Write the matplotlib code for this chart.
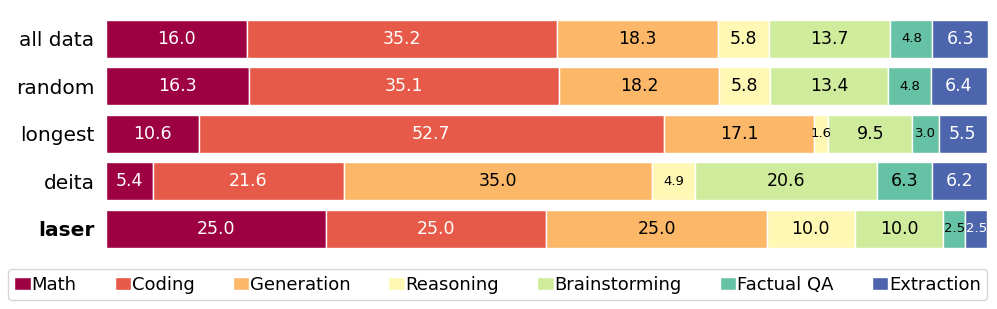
import numpy as np
import matplotlib
matplotlib.use("Agg")
import matplotlib.pyplot as plt

# data
rows = ["all data", "random", "longest", "deita", "laser"]
categories = ["Math", "Coding", "Generation", "Reasoning", "Brainstorming", "Factual QA", "Extraction"]
math_vals = [16.0, 16.3, 10.6, 5.4, 25.0]
coding_vals = [35.2, 35.1, 52.7, 21.6, 25.0]
generation_vals = [18.3, 18.2, 17.1, 35.0, 25.0]
reasoning_vals = [5.8, 5.8, 1.6, 4.9, 10.0]
brainstorming_vals = [13.7, 13.4, 9.5, 20.6, 10.0]
factual_vals = [4.8, 4.8, 3.0, 6.3, 2.5]
extraction_vals = [6.3, 6.4, 5.5, 6.2, 2.5]

series = [math_vals, coding_vals, generation_vals, reasoning_vals,
          brainstorming_vals, factual_vals, extraction_vals]
white_text = [True, True, False, False, False, False, True]

colors = plt.cm.Spectral(np.linspace(0, 0.96, 7))

fig = plt.figure(figsize=(9.97, 3.09), dpi=100)
ax = fig.add_axes([0.106, 0.182, 0.885, 0.770])

y = np.arange(len(rows))
left = np.zeros(len(rows))
for i, vals in enumerate(series):
    vals = np.array(vals)
    ax.barh(y, vals, left=left, height=0.8, color=colors[i],
            edgecolor="white", linewidth=1, label=categories[i])
    for j, v in enumerate(vals):
        fs = 12.5 if v >= 5.4 else 9.5
        ax.text(left[j] + v / 2, y[j], "%.1f" % v, ha="center", va="center",
                fontsize=fs, color="white" if white_text[i] else "black")
    left += vals

ax.set_xlim(0, 100.1)
ax.set_ylim(4.5, -0.5)
ax.set_yticks(y)
ax.set_yticklabels(rows, fontsize=14.5)
ax.get_yticklabels()[-1].set_fontweight("bold")
ax.tick_params(axis="y", length=0, pad=8)
ax.set_xticks([])
for s in ax.spines.values():
    s.set_visible(False)

fig.legend(loc="lower left", bbox_to_anchor=(0.008, 0.029, 0.982, 0.1), mode="expand",
           borderaxespad=0, ncol=7, fontsize=13, handlelength=0.9, handleheight=0.8,
           handletextpad=0.05, borderpad=0.35, frameon=True)

fig.savefig("out.png", dpi=100)
